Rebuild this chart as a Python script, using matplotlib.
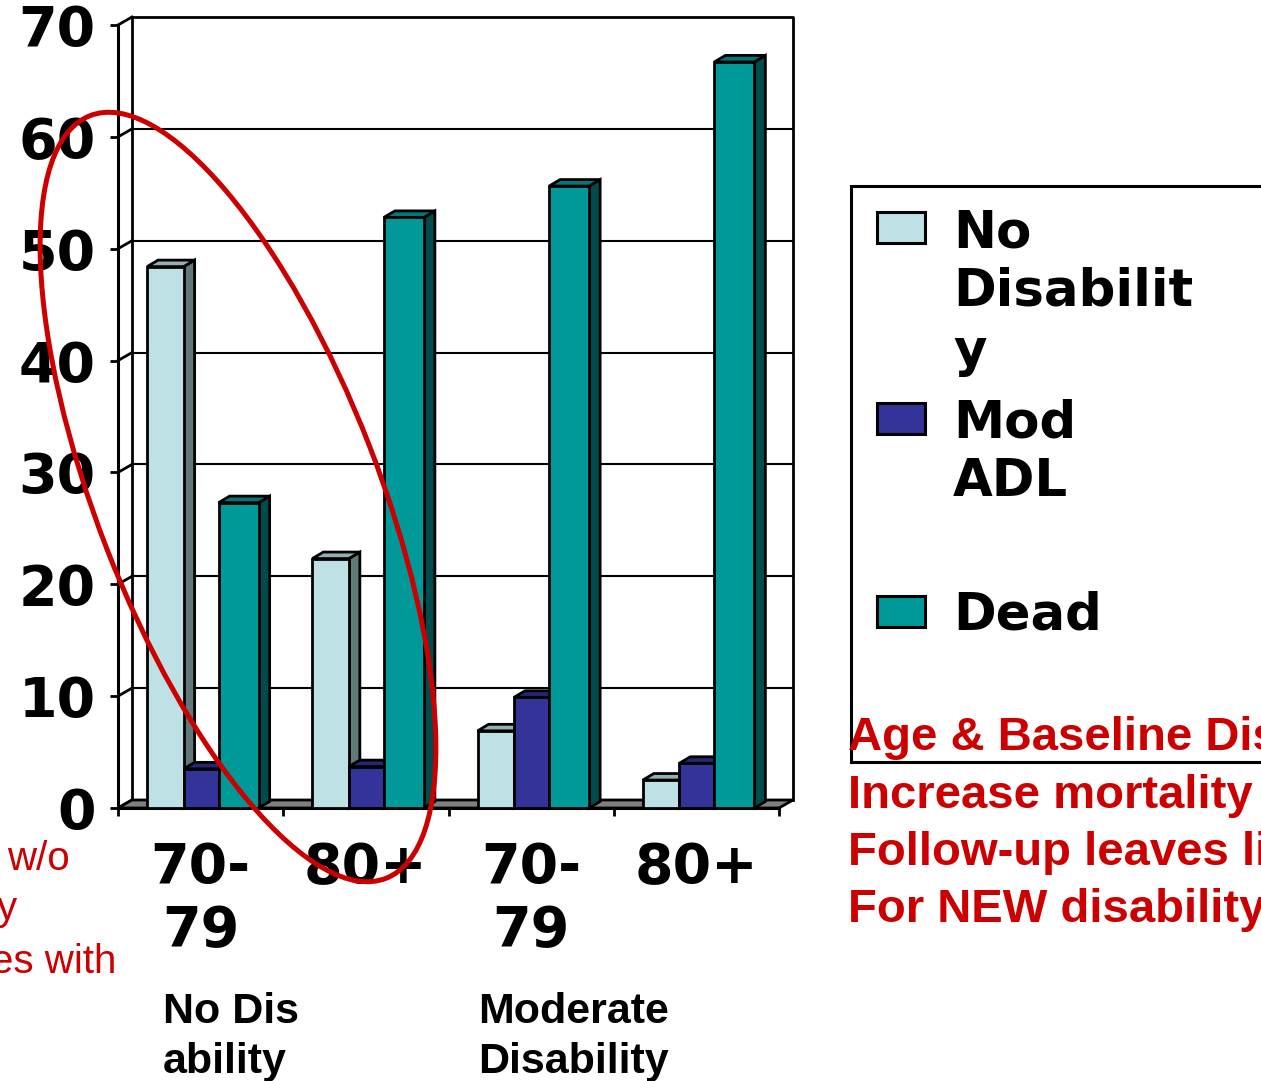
import matplotlib
matplotlib.use("Agg")
import matplotlib.pyplot as plt
from matplotlib.patches import Rectangle, Polygon, Ellipse

# ---- data ----
categories = ["70-\n79", "80+", "70-\n79", "80+"]
groups = ["No Dis\nability", "Moderate\nDisability"]
series = ["No Disability", "Mod ADL", "Dead"]
no_disability = [48.4, 22.3, 6.9, 2.5]
mod_adl = [3.5, 3.7, 9.9, 4.0]
dead = [27.3, 52.8, 55.6, 66.7]
yticks = [0, 10, 20, 30, 40, 50, 60, 70]

legend_lines = [["No", "Disabilit", "y"], ["Mod", "ADL"], ["Dead"]]
left_note = ["w/o", "y", "es with"]
right_note = ["Age & Baseline Dis", "Increase mortality",
              "Follow-up leaves li", "For NEW disability"]

# colours: front, top, side
colors = [("#BDE1E4", "#93B0B2", "#607878"),
          ("#333399", "#262673", "#1E1E5A"),
          ("#009999", "#007878", "#004C4C")]
RED = "#CC0000"

W, H = 1261, 1081
fig = plt.figure(figsize=(W / 100, H / 100), dpi=100)

# front plane of the chart, in pixels: x 118..779, y 808 (0) .. 25 (70)
ax_l, ax_r, ax_b, ax_t = 118, 779, 808, 25
ax = fig.add_axes([ax_l / W, 1 - ax_b / H, (ax_r - ax_l) / W, (ax_b - ax_t) / H])
ax.set_xlim(0, 4)
ax.set_ylim(0, 70)
ax.patch.set_visible(False)

px_x = (ax_r - ax_l) / 4.0
px_y = (ax_b - ax_t) / 70.0
# wall depth and bar depth, converted to data units
wx, wy = 14 / px_x, 8 / px_y
bx, by = 11 / px_x, 6.5 / px_y

lw = 2.0
# back wall
ax.plot([wx, wx, 4 + wx, 4 + wx], [wy, 70 + wy, 70 + wy, wy], color="black",
        lw=lw, zorder=1, clip_on=False)
for t in yticks[1:-1]:
    ax.plot([wx, 4 + wx], [t + wy, t + wy], color="black", lw=1.5, zorder=1,
            clip_on=False)
# left wall diagonals
for t in yticks:
    ax.plot([0, wx], [t, t + wy], color="black", lw=lw, zorder=1, clip_on=False)
# floor
ax.add_patch(Polygon([(0, 0), (4, 0), (4 + wx, wy), (wx, wy)], closed=True,
                     facecolor="#808080", edgecolor="black", lw=lw, zorder=1.5,
                     clip_on=False))

# bars with a fake 3d look
offsets = [0.176, 0.397, 0.609]
widths = [0.221, 0.212, 0.242]
for si, vals in enumerate([no_disability, mod_adl, dead]):
    front, top, side = colors[si]
    xs = [gi + offsets[si] for gi in range(len(vals))]
    for x0, v in zip(xs, vals):
        x1 = x0 + widths[si]
        ax.add_patch(Polygon([(x1, 0), (x1 + bx, by), (x1 + bx, v + by), (x1, v)],
                             closed=True, facecolor=side, edgecolor="black",
                             lw=lw, zorder=3 + si, clip_on=False))
        ax.add_patch(Polygon([(x0, v), (x0 + bx, v + by), (x1 + bx, v + by), (x1, v)],
                             closed=True, facecolor=top, edgecolor="black",
                             lw=lw, zorder=3 + si, clip_on=False))
    ax.bar(xs, vals, width=widths[si], align="edge", color=front,
           edgecolor="black", linewidth=lw, zorder=3 + si, label=series[si],
           clip_on=False)

# axes, ticks
for s in ["top", "right"]:
    ax.spines[s].set_visible(False)
for s in ["left", "bottom"]:
    ax.spines[s].set_linewidth(2.2)
    ax.spines[s].set_zorder(2)
ax.set_yticks(yticks)
ax.set_yticklabels([str(t) for t in yticks], fontsize=40, fontweight="bold",
                   family="DejaVu Sans")
ax.tick_params(axis="y", length=6, width=2, pad=10)
ax.set_xticks(range(5))
ax.set_xticklabels([])
ax.tick_params(axis="x", which="major", length=6, width=2)
ax.set_xticks([i + 0.5 for i in range(4)], minor=True)
ax.set_xticklabels(categories, minor=True, fontsize=40, fontweight="bold",
                   family="DejaVu Sans", linespacing=1.2)
ax.tick_params(axis="x", which="minor", length=0, pad=24)

# overlay in pixel coordinates for the slide annotations
ov = fig.add_axes([0, 0, 1, 1])
ov.set_xlim(0, W)
ov.set_ylim(H, 0)
ov.axis("off")

# group labels under the categories
for gx, g in zip([163, 478], groups):
    for li, line in enumerate(g.split("\n")):
        ov.text(gx, 1023 + li * 50, line, fontsize=31, fontweight="bold",
                family="Liberation Sans", va="baseline", ha="left")

# legend drawn by hand, right edge runs off the slide
ov.add_patch(Rectangle((851, 186), 500, 576, facecolor="white",
                       edgecolor="black", lw=2.2))
patch_tops = [212, 403, 596]
text_base = [[247, 306, 366], [438, 496], [629]]
for si in range(3):
    ov.add_patch(Rectangle((877, patch_tops[si]), 48, 31, facecolor=colors[si][0],
                           edgecolor="black", lw=2.2))
    for line, yb in zip(legend_lines[si], text_base[si]):
        ov.text(953, yb, line, fontsize=37, fontweight="bold",
                family="DejaVu Sans", va="baseline", ha="left")

# red notes (partly cut off by the slide edge)
for line, xr, yb in zip(left_note, [70, 17, 116], [870, 920, 973]):
    ov.text(xr, yb, line, fontsize=29, color=RED, family="Liberation Sans",
            va="baseline", ha="right")
for li, line in enumerate(right_note):
    ov.text(848, 750 + li * 57.5, line, fontsize=34, fontweight="bold", color=RED,
            family="Liberation Sans", va="baseline", ha="left")

# red ellipse around the "no disability" group
ov.add_patch(Ellipse((238, 497), width=818, height=282, angle=68.8,
                     fill=False, edgecolor=RED, lw=3.6, zorder=10))

fig.savefig("out.png", dpi=100)
